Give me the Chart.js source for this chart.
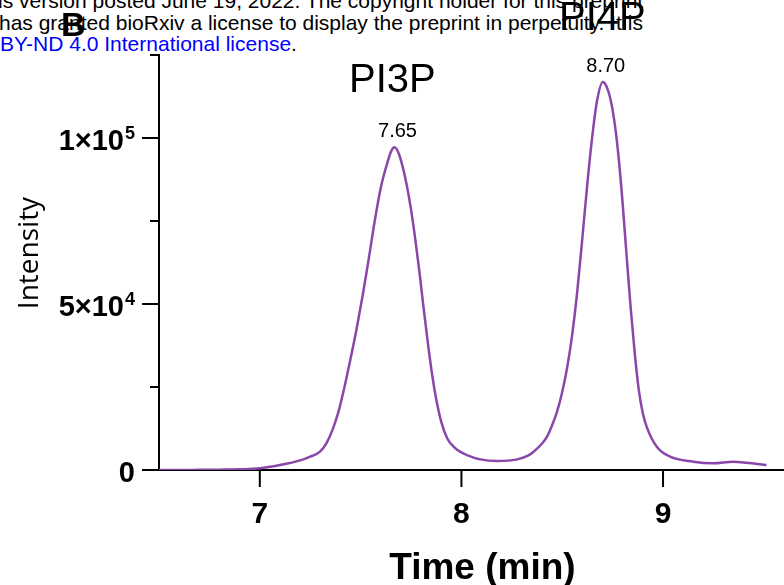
<!DOCTYPE html>
<html>
<head>
<meta charset="utf-8">
<script src="https://cdn.jsdelivr.net/npm/chart.js@4.4.1/dist/chart.umd.min.js"></script>
<style>
  html, body { margin: 0; padding: 0; background: #fff; }
  #wrap { position: relative; width: 784px; height: 585px; overflow: hidden; }
  #chart { position: absolute; left: 0; top: 0; }
  .wm { position: absolute; font-family: "Liberation Sans", Arial, sans-serif; font-size: 21px; color: #000; white-space: nowrap; line-height: 1; }
  .note { position: absolute; font-family: "Liberation Sans", Arial, sans-serif; color: #000; white-space: nowrap; line-height: 1; }
</style>
</head>
<body>
<div id="wrap">
  <div class="wm" style="left:-2px; top:-10px;">is version posted June 19, 2022. The copyright holder for this preprint</div>
  <div class="wm" style="left:-1px; top:12px;">has granted bioRxiv a license to display the preprint in perpetuity. It is</div>
  <div class="wm" style="left:0px; top:33px;"><span style="color:#0000ff">BY-ND 4.0 International license</span>.</div>
  <canvas id="chart" width="784" height="585"></canvas>
  <div class="note" style="left:61px; top:7px; font-size:34px; font-weight:bold;">B</div>
  <div class="note" style="left:349px; top:58px; font-size:40px;">PI3P</div>
  <div class="note" style="left:559px; top:-4px; font-size:40px;">PI4P</div>
</div>
<script>
// retention time (min) and intensity
const times = [6.5, 6.6, 6.7, 6.8, 6.9, 7.0, 7.1, 7.2, 7.25, 7.3, 7.33, 7.36, 7.39, 7.42, 7.45, 7.48, 7.51, 7.54,
  7.57, 7.6, 7.63, 7.65, 7.668, 7.69, 7.71, 7.73, 7.75, 7.77, 7.79, 7.81, 7.83, 7.855, 7.876, 7.9, 7.93,
  7.962, 8.0, 8.028, 8.094, 8.177, 8.276, 8.33, 8.358, 8.4, 8.424, 8.45, 8.474, 8.5, 8.525, 8.55, 8.575, 8.6,
  8.625, 8.65, 8.672, 8.701, 8.72, 8.74, 8.76, 8.78, 8.8, 8.82, 8.84, 8.86, 8.88, 8.9,
  8.919, 8.969, 9.035, 9.15, 9.25, 9.349, 9.414, 9.513];
const intensity = [0, 0, 50, 100, 200, 500, 1500, 2900, 4000, 5600, 8000, 12000, 17500, 25000, 33500, 42500, 52500, 63500,
  75000, 85000, 92000, 95800, 97200, 95200, 91000, 85500, 78500, 70000, 60500, 50000, 40000, 28600, 21000, 14500, 9500,
  7000, 5300, 4500, 3200, 2700, 3200, 4300, 5500, 8000, 10000, 13500, 17500, 23500, 31000, 41000, 54000, 70000,
  86500, 101000, 111000, 116900, 115500, 111500, 104500, 94000, 80000, 64000, 48500, 35000, 24000, 17000,
  13000, 7000, 4000, 2500, 2000, 2500, 2200, 1500];

const peakTimes = [7.668, 8.701];
const peakValues = [97200, 116900];
const peakLabels = ['7.65', '8.70'];

const xTicks = [7, 8, 9];
const yTicks = [0, 25000, 50000, 75000, 100000, 125000];
const yMajor = [0, 50000, 100000];
const yBase = ['0', '5×10', '1×10'];
const yExp = ['', '4', '5'];

const lineColor = '#8A46A9';
const FONT = '"Liberation Sans", Arial, sans-serif';

const axisDecor = {
  id: 'axisDecor',
  afterDraw(chart) {
    const ctx = chart.ctx;
    const xs = chart.scales.x, ys = chart.scales.y;
    const area = chart.chartArea;
    ctx.save();
    ctx.strokeStyle = '#000';
    ctx.fillStyle = '#000';
    ctx.lineWidth = 2;

    // y ticks
    yTicks.forEach(v => {
      const y = ys.getPixelForValue(v);
      const major = yMajor.includes(v);
      ctx.beginPath();
      ctx.moveTo(area.left - (major ? 17 : 9), y);
      ctx.lineTo(area.left, y);
      ctx.stroke();
    });
    yMajor.forEach((v, i) => {
      const y = ys.getPixelForValue(v);
      const right = 135;
      ctx.textBaseline = 'alphabetic';
      ctx.font = 'bold 18px ' + FONT;
      const ew = yExp[i] ? ctx.measureText(yExp[i]).width : 0;
      if (yExp[i]) {
        ctx.textAlign = 'right';
        ctx.fillText(yExp[i], right, y + 1);
      }
      ctx.font = 'bold 29px ' + FONT;
      ctx.textAlign = 'right';
      ctx.fillText(yBase[i], right - ew - (ew ? 1 : 0), y + 12);
    });

    // x ticks
    xTicks.forEach(v => {
      const x = xs.getPixelForValue(v);
      ctx.beginPath();
      ctx.moveTo(x, area.bottom);
      ctx.lineTo(x, area.bottom + 17);
      ctx.stroke();
      ctx.font = 'bold 30px ' + FONT;
      ctx.textAlign = 'center';
      ctx.textBaseline = 'alphabetic';
      ctx.fillText(String(v), x, area.bottom + 53);
    });

    // axis titles
    ctx.font = 'bold 37px ' + FONT;
    ctx.textAlign = 'center';
    ctx.fillText('Time (min)', (xs.getPixelForValue(7) + xs.getPixelForValue(9)) / 2 + 21, 579);

    ctx.save();
    ctx.translate(38, 253);
    ctx.rotate(-Math.PI / 2);
    ctx.font = '28px "Open Sans", sans-serif';
    ctx.fillText('Intensity', 0, 0);
    ctx.restore();

    // peak retention times
    ctx.font = '20px ' + FONT;
    peakTimes.forEach((t, i) => {
      ctx.fillText(peakLabels[i], xs.getPixelForValue(t) + 3, ys.getPixelForValue(peakValues[i]) - 10);
    });
    ctx.restore();
  }
};

new Chart(document.getElementById('chart'), {
  type: 'line',
  data: {
    datasets: [{
      data: times.map((t, i) => ({ x: t, y: intensity[i] })),
      borderColor: lineColor,
      borderWidth: 2.5,
      pointRadius: 0,
      cubicInterpolationMode: 'monotone',
      fill: false
    }]
  },
  options: {
    responsive: false,
    animation: false,
    layout: { padding: { left: 151, top: 55, right: 0, bottom: 107 } },
    plugins: { legend: { display: false }, tooltip: { enabled: false } },
    scales: {
      x: {
        type: 'linear', min: 6.5, max: 9.6,
        grid: { display: false },
        ticks: { display: false },
        border: { display: true, color: '#000', width: 2 }
      },
      y: {
        min: 0, max: 125000,
        grid: { display: false },
        ticks: { display: false },
        border: { display: true, color: '#000', width: 2 }
      }
    }
  },
  plugins: [axisDecor]
});
</script>
</body>
</html>
